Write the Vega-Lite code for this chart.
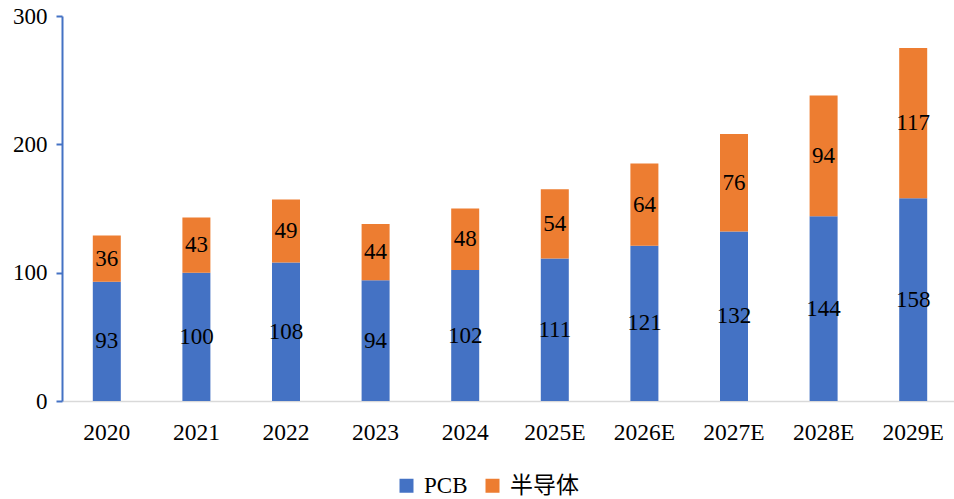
{
  "$schema": "https://vega.github.io/schema/vega-lite/v6.json",
  "width": 896,
  "height": 385,
  "autosize": {"type": "none"},
  "padding": {"left": 62, "top": 16, "right": 0, "bottom": 98},
  "background": "white",
  "config": {
    "view": {"stroke": null},
    "font": "Liberation Serif"
  },
  "data": {
    "values": [
      {"year": "2020", "series": "PCB", "value": 93, "ord": 1},
      {"year": "2020", "series": "半导体", "value": 36, "ord": 2},
      {"year": "2021", "series": "PCB", "value": 100, "ord": 1},
      {"year": "2021", "series": "半导体", "value": 43, "ord": 2},
      {"year": "2022", "series": "PCB", "value": 108, "ord": 1},
      {"year": "2022", "series": "半导体", "value": 49, "ord": 2},
      {"year": "2023", "series": "PCB", "value": 94, "ord": 1},
      {"year": "2023", "series": "半导体", "value": 44, "ord": 2},
      {"year": "2024", "series": "PCB", "value": 102, "ord": 1},
      {"year": "2024", "series": "半导体", "value": 48, "ord": 2},
      {"year": "2025E", "series": "PCB", "value": 111, "ord": 1},
      {"year": "2025E", "series": "半导体", "value": 54, "ord": 2},
      {"year": "2026E", "series": "PCB", "value": 121, "ord": 1},
      {"year": "2026E", "series": "半导体", "value": 64, "ord": 2},
      {"year": "2027E", "series": "PCB", "value": 132, "ord": 1},
      {"year": "2027E", "series": "半导体", "value": 76, "ord": 2},
      {"year": "2028E", "series": "PCB", "value": 144, "ord": 1},
      {"year": "2028E", "series": "半导体", "value": 94, "ord": 2},
      {"year": "2029E", "series": "PCB", "value": 158, "ord": 1},
      {"year": "2029E", "series": "半导体", "value": 117, "ord": 2}
    ]
  },
  "encoding": {
    "x": {
      "field": "year",
      "type": "nominal",
      "sort": null,
      "scale": {"paddingInner": 0.6875, "paddingOuter": 0.34375},
      "axis": {
        "title": null,
        "labelAngle": 0,
        "labelFont": "Liberation Serif",
        "labelFontSize": 23.5,
        "labelColor": "#000000",
        "labelPadding": 19,
        "ticks": false,
        "domainColor": "#D9D9D9",
        "domainWidth": 1.5
      }
    }
  },
  "layer": [
    {
      "mark": {"type": "bar"},
      "encoding": {
        "y": {
          "field": "value",
          "type": "quantitative",
          "stack": "zero",
          "scale": {"domain": [0, 300], "nice": false},
          "axis": {
            "title": null,
            "values": [0, 100, 200, 300],
            "grid": false,
            "domainColor": "#4472C4",
            "domainWidth": 2,
            "tickColor": "#4472C4",
            "tickWidth": 2,
            "tickSize": 6,
            "labelFont": "Liberation Serif",
            "labelFontSize": 23,
            "labelColor": "#000000",
            "labelPadding": 9
          }
        },
        "color": {
          "field": "series",
          "type": "nominal",
          "scale": {"domain": ["PCB", "半导体"], "range": ["#4472C4", "#ED7D31"]},
          "legend": {
            "title": null,
            "orient": "none",
            "legendX": 333,
            "legendY": 458,
            "direction": "horizontal",
            "symbolType": "square",
            "symbolSize": 196,
            "symbolStrokeWidth": 0,
            "labelFont": "Liberation Serif, Noto Sans CJK SC",
            "labelFontSize": 23,
            "labelColor": "#000000",
            "columnPadding": 13,
            "labelOffset": 6
          }
        },
        "order": {"field": "ord", "type": "quantitative"}
      }
    },
    {
      "mark": {"type": "text", "font": "Liberation Serif", "fontSize": 23, "color": "#000000", "baseline": "middle", "align": "center"},
      "encoding": {
        "y": {"field": "value", "type": "quantitative", "stack": "zero", "bandPosition": 0.5},
        "detail": {"field": "series", "type": "nominal"},
        "order": {"field": "ord", "type": "quantitative"},
        "text": {"field": "value", "type": "quantitative"}
      }
    }
  ]
}
